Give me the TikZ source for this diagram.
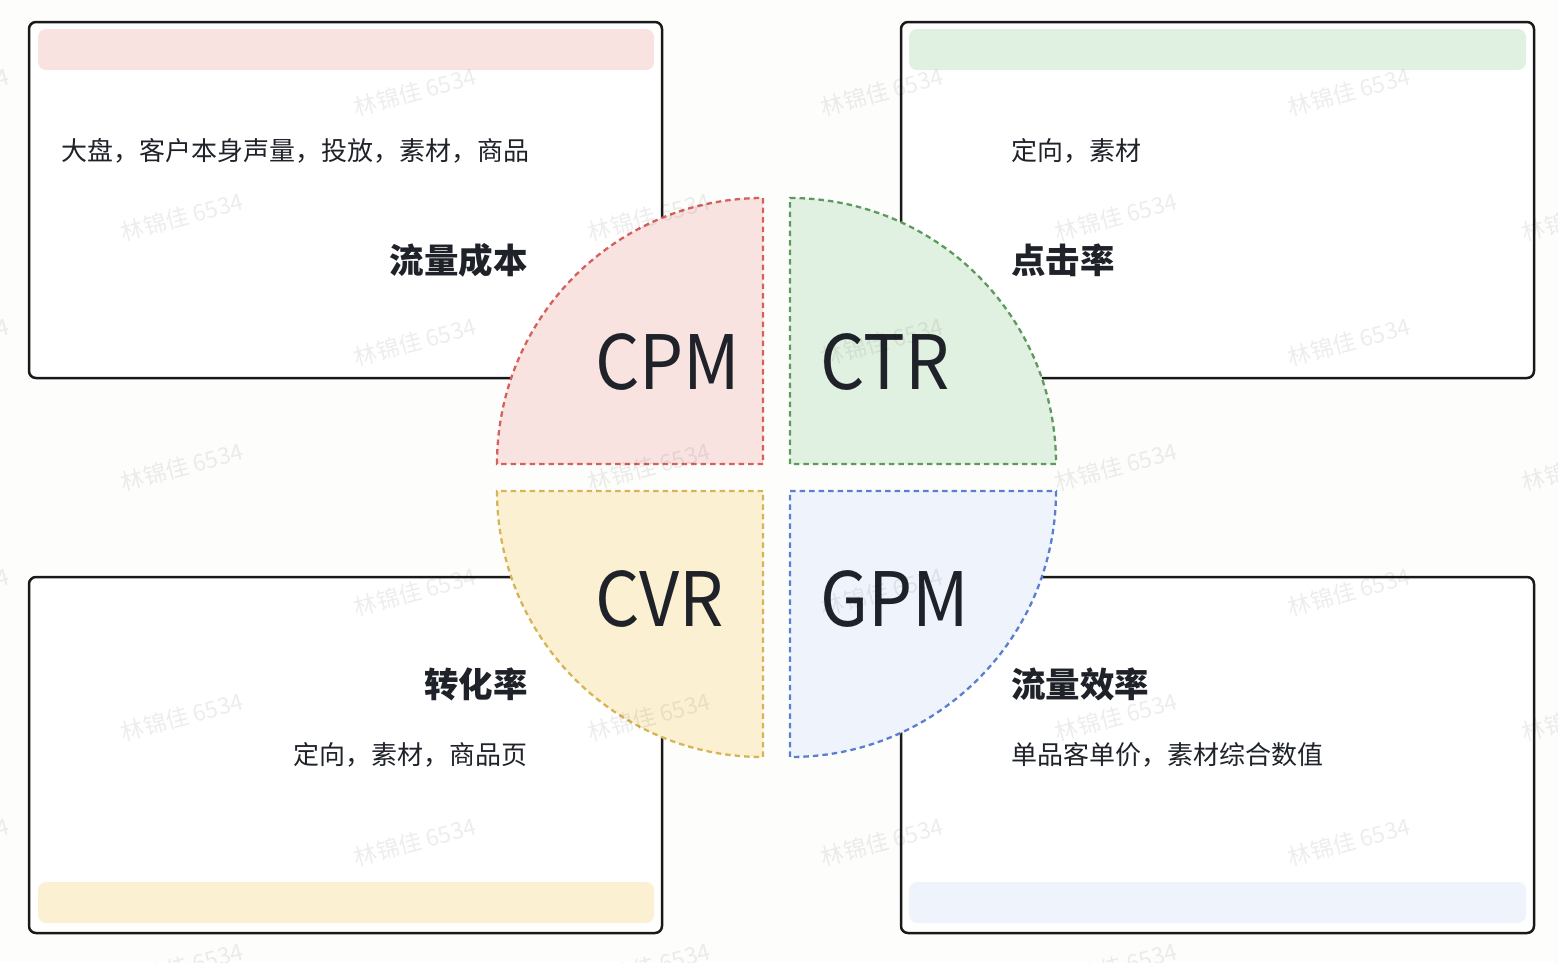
\documentclass[tikz,border=0pt]{standalone}
\usepackage{fontspec}
\usepackage{graphicx}
\newfontfamily\cjk{Noto Sans CJK SC}
\usetikzlibrary{calc}
\definecolor{bgc}{HTML}{FDFDFB}
\definecolor{txt}{HTML}{1F2329}
\definecolor{pinkf}{HTML}{F8E3E1}
\definecolor{pinkd}{HTML}{D5605C}
\definecolor{greenf}{HTML}{E1F1E1}
\definecolor{greend}{HTML}{5E9A5E}
\definecolor{yellowf}{HTML}{FCF0D2}
\definecolor{yellowd}{HTML}{D6B458}
\definecolor{bluef}{HTML}{EFF3FB}
\definecolor{blued}{HTML}{5B7FD0}
\newcommand{\narrowbig}[1]{\scalebox{0.93}[1.0]{#1}}
\tikzset{
  card/.style={draw=black!90, line width=2.5pt, fill=white, rounded corners=7pt},
  bar/.style={rounded corners=8pt},
  quad/.style={line width=2.3pt, dash pattern=on 5.5pt off 4pt},
  desc/.style={font=\cjk\fontsize{26}{30}\selectfont, text=txt, inner sep=0pt},
  ttl/.style={font=\cjk\bfseries\fontsize{34.5}{40}\selectfont, text=txt, inner sep=0pt},
  big/.style={font=\cjk\fontsize{75}{84}\selectfont, text=txt, inner sep=0pt},
  wm/.style={font=\cjk\fontsize{23}{27}\selectfont, text=black, opacity=0.07, rotate=15, inner sep=0pt}
}
\begin{document}
\begin{tikzpicture}[x=1pt,y=1pt]
\fill[bgc] (0,0) rectangle (1558,-962);
\useasboundingbox (0,0) rectangle (1558,-962);
% cards
\draw[card] (29,-22) rectangle (662,-378);
\fill[pinkf, bar] (38,-29) rectangle (654,-70);
\draw[card] (901,-22) rectangle (1534,-378);
\fill[greenf, bar] (909,-29) rectangle (1526,-70);
\draw[card] (29,-577) rectangle (662,-933);
\fill[yellowf, bar] (38,-882) rectangle (654,-923);
\draw[card] (901,-577) rectangle (1534,-933);
\fill[bluef, bar] (909,-882) rectangle (1526,-923);
% quadrants
\draw[quad, draw=pinkd, fill=pinkf] (763,-464) -- (497,-464) arc[start angle=180,end angle=90,radius=266] -- cycle;
\draw[quad, draw=greend, fill=greenf] (790,-464) -- (790,-198) arc[start angle=90,end angle=0,radius=266] -- cycle;
\draw[quad, draw=yellowd, fill=yellowf] (763,-491) -- (497,-491) arc[start angle=180,end angle=270,radius=266] -- cycle;
\draw[quad, draw=blued, fill=bluef] (790,-491) -- (1056,-491) arc[start angle=0,end angle=-90,radius=266] -- cycle;
% big labels
\node[big, anchor=base west] (cpm) at (595,-389) {\narrowbig{CPM}};
\node[big, anchor=base west] (ctr) at (820,-389) {\narrowbig{CTR}};
\node[big, anchor=base west] (cvr) at (595,-626) {\narrowbig{CVR}};
\node[big, anchor=base west] (gpm) at (820,-626) {\narrowbig{GPM}};
% card texts
\node[desc, anchor=west] (d1) at (61,-151) {大盘，客户本身声量，投放，素材，商品};
\node[ttl, anchor=east] (t1) at (528,-260) {流量成本};
\node[desc, anchor=west] (d2) at (1011,-151) {定向，素材};
\node[ttl, anchor=west] (t2) at (1011,-260) {点击率};
\node[ttl, anchor=east] (t3) at (528,-684) {转化率};
\node[desc, anchor=east] (d3) at (528,-755) {定向，素材，商品页};
\node[ttl, anchor=west] (t4) at (1011,-684) {流量效率};
\node[desc, anchor=west] (d4) at (1011,-755) {单品客单价，素材综合数值};
% watermarks
\foreach \k in {0,...,7}{
  \pgfmathsetmacro{\yy}{-92-125*\k}
  \pgfmathsetmacro{\xo}{mod(\k,2)==0 ? -52 : -285}
  \foreach \j in {0,...,4}{
    \node[wm] (w\k\j) at ({\xo+467*\j},\yy) {林锦佳 6534};
  }
}
\end{tikzpicture}
\end{document}
